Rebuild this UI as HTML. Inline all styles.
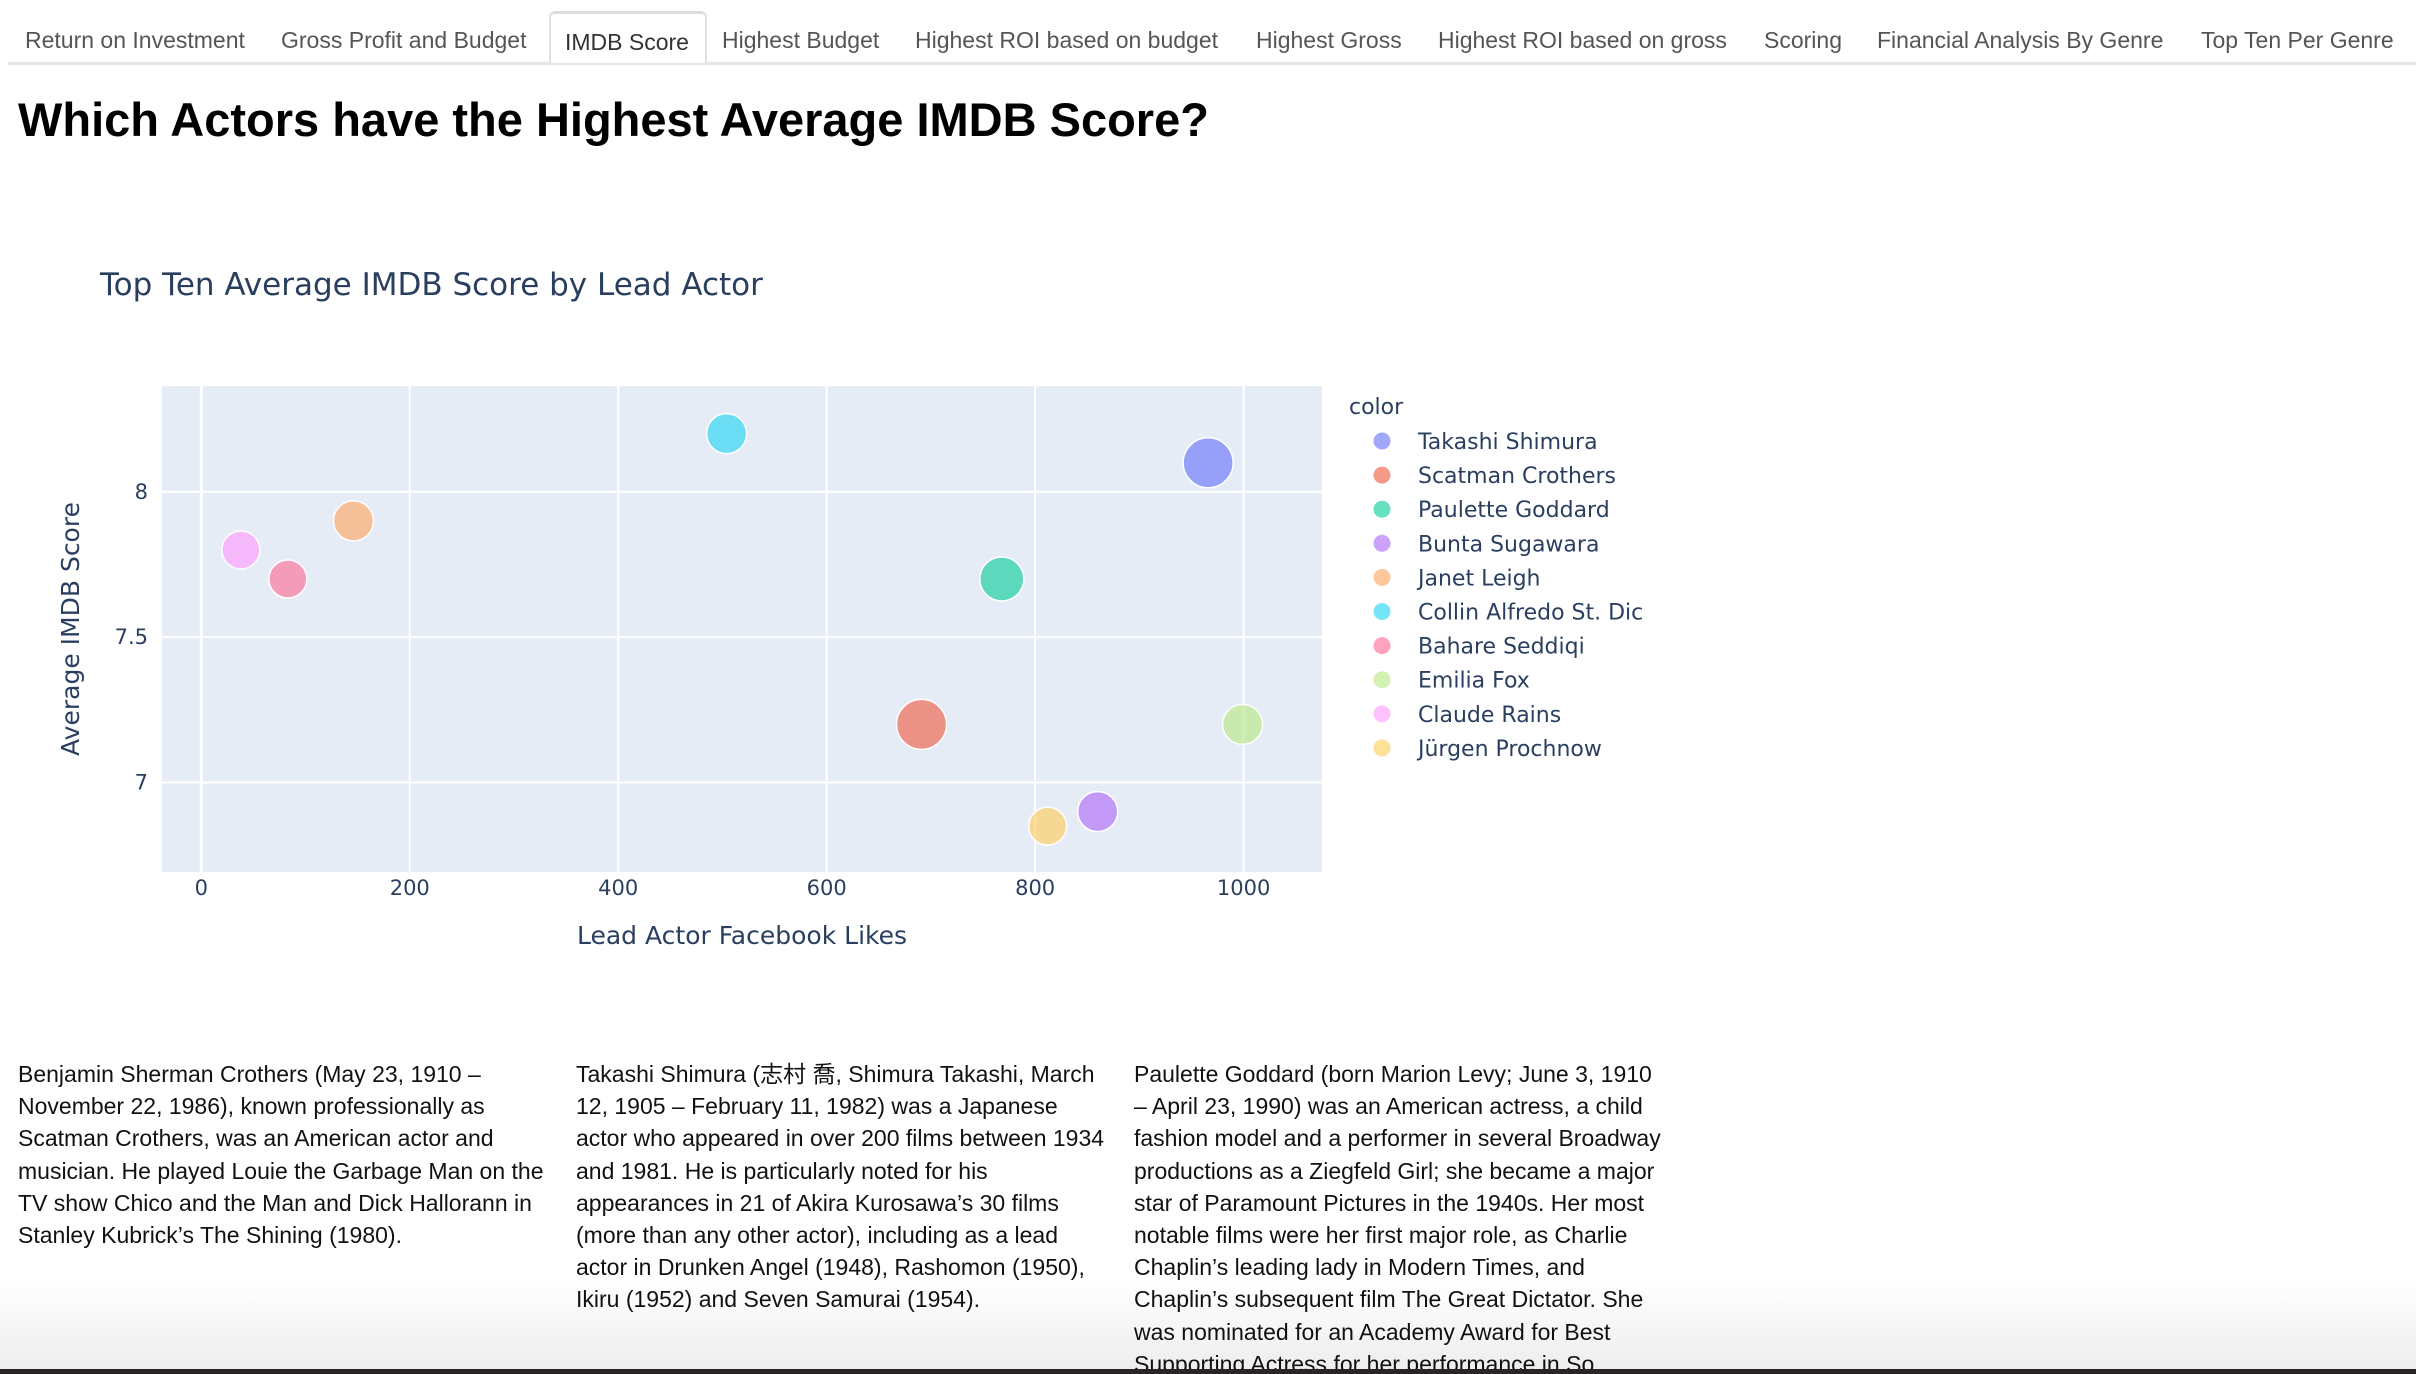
<!DOCTYPE html>
<html><head><meta charset="utf-8">
<style>
html,body{margin:0;padding:0;background:#fff;width:2416px;height:1374px;overflow:hidden;position:relative;font-family:"Liberation Sans",Arial,sans-serif;}
.tabs{position:absolute;left:8px;top:0;width:2408px;height:62px;border-bottom:3px solid #e6e6e6;}
.tab{position:absolute;top:27px;font-size:23px;color:#555;white-space:nowrap;}
.tab.active{top:11px;height:52px;border:2px solid #e0e0e0;border-bottom:none;border-top:3px solid #ddd;border-radius:6px 6px 0 0;background:#fff;padding:0 14px;box-sizing:border-box;line-height:56px;color:#333;}
h1{position:absolute;left:18px;top:92px;margin:0;font-size:47px;font-weight:bold;color:#000;}
svg{position:absolute;left:0;top:0;}
.col{position:absolute;top:1058px;width:560px;font-size:23px;line-height:32.2px;color:#111;font-family:"Liberation Sans","Noto Sans CJK JP",sans-serif;z-index:2;}
.shade{position:absolute;left:0;top:1280px;width:2416px;height:94px;background:linear-gradient(to bottom,rgba(255,255,255,0),rgba(232,232,232,0.8));z-index:1;}
.bottomline{position:absolute;left:0;top:1369px;width:2416px;height:5px;background:#2a2424;z-index:3;}
</style></head><body>
<div class="tabs">
<span class="tab" style="left:17px">Return on Investment</span>
<span class="tab" style="left:273px">Gross Profit and Budget</span>
<span class="tab active" style="left:541px;width:158px">IMDB Score</span>
<span class="tab" style="left:714px">Highest Budget</span>
<span class="tab" style="left:907px">Highest ROI based on budget</span>
<span class="tab" style="left:1248px">Highest Gross</span>
<span class="tab" style="left:1430px">Highest ROI based on gross</span>
<span class="tab" style="left:1756px">Scoring</span>
<span class="tab" style="left:1869px">Financial Analysis By Genre</span>
<span class="tab" style="left:2193px">Top Ten Per Genre</span>
</div>
<h1>Which Actors have the Highest Average IMDB Score?</h1>

<svg id="chart" width="2416" height="1000" font-family="DejaVu Sans, sans-serif"></svg>

<div class="col" style="left:18px">Benjamin Sherman Crothers (May 23, 1910 –<br>November 22, 1986), known professionally as<br>Scatman Crothers, was an American actor and<br>musician. He played Louie the Garbage Man on the<br>TV show Chico and the Man and Dick Hallorann in<br>Stanley Kubrick’s The Shining (1980).</div>
<div class="col" style="left:576px">Takashi Shimura (志村 喬, Shimura Takashi, March<br>12, 1905 – February 11, 1982) was a Japanese<br>actor who appeared in over 200 films between 1934<br>and 1981. He is particularly noted for his<br>appearances in 21 of Akira Kurosawa’s 30 films<br>(more than any other actor), including as a lead<br>actor in Drunken Angel (1948), Rashomon (1950),<br>Ikiru (1952) and Seven Samurai (1954).</div>
<div class="col" style="left:1134px">Paulette Goddard (born Marion Levy; June 3, 1910<br>– April 23, 1990) was an American actress, a child<br>fashion model and a performer in several Broadway<br>productions as a Ziegfeld Girl; she became a major<br>star of Paramount Pictures in the 1940s. Her most<br>notable films were her first major role, as Charlie<br>Chaplin’s leading lady in Modern Times, and<br>Chaplin’s subsequent film The Great Dictator. She<br>was nominated for an Academy Award for Best<br>Supporting Actress for her performance in So</div>
<div class="shade"></div>
<div class="bottomline"></div>

<script>
const actors = ["Takashi Shimura","Scatman Crothers","Paulette Goddard","Bunta Sugawara","Janet Leigh","Collin Alfredo St. Dic","Bahare Seddiqi","Emilia Fox","Claude Rains","Jürgen Prochnow"];
const likes = [966, 691, 768, 860, 146, 504, 83, 999, 38, 812];
const scores = [8.1, 7.2, 7.7, 6.9, 7.9, 8.2, 7.7, 7.2, 7.8, 6.85];
const sizes = [25, 25, 22, 20, 20, 20, 19, 20, 19, 19];
const colors = ["#636efa","#EF553B","#00cc96","#ab63fa","#FFA15A","#19d3f3","#FF6692","#B6E880","#FF97FF","#FECB52"];
const xTicks = [0,200,400,600,800,1000];
const yTicks = [7,7.5,8];
const yTickLabels = ["7","7.5","8"];

const NS="http://www.w3.org/2000/svg";
const svg=document.getElementById('chart');
const P={l:162,t:386,r:1322,b:872};
const X0=201.3, XK=(1243.6-201.3)/1000;
const Y0=782.5, YK=(782.5-491.8);
const xs=v=>X0+v*XK;
const ys=v=>Y0-(v-7)*YK;
function mk(tag,attrs,parent){const e=document.createElementNS(NS,tag);for(const k in attrs)e.setAttribute(k,attrs[k]);(parent||svg).appendChild(e);return e;}

const bg=mk('rect',{x:P.l,y:P.t,width:P.r-P.l,height:P.b-P.t,fill:'#e5ecf6'});



const title=mk('text',{x:100,y:295,'font-size':31,fill:'#2a3f5f'});
title.textContent='Top Ten Average IMDB Score by Lead Actor';



xTicks.forEach(t=>{
  const g=mk('line',{x1:xs(t),x2:xs(t),y1:P.t,y2:P.b,stroke:'#fff','stroke-width':t===0?3:2});
  
  
  const l=mk('text',{x:xs(t),y:895,'font-size':21,fill:'#2a3f5f','text-anchor':'middle'});
  l.textContent=t;
  
  
});
yTicks.forEach((t,i)=>{
  const g=mk('line',{x1:P.l,x2:P.r,y1:ys(t),y2:ys(t),stroke:'#fff','stroke-width':2});
  
  
  const l=mk('text',{x:P.l-14,y:ys(t)+7,'font-size':21,fill:'#2a3f5f','text-anchor':'end'});
  l.textContent=yTickLabels[i];
  
  
});

const xt=mk('text',{x:742,y:944,'font-size':25,fill:'#2a3f5f','text-anchor':'middle'});
xt.textContent='Lead Actor Facebook Likes';


const yt=mk('text',{x:0,y:0,'font-size':25,fill:'#2a3f5f','text-anchor':'middle',transform:'translate(79,629) rotate(-90)'});
yt.textContent='Average IMDB Score';



actors.forEach((a,i)=>{
  const c=mk('circle',{cx:xs(likes[i]),cy:ys(scores[i]),r:sizes[i],fill:colors[i],'fill-opacity':0.6,stroke:'#fff','stroke-width':1.5});
  
  
});

const lt=mk('text',{x:1349,y:414,'font-size':22,fill:'#2a3f5f'});
lt.textContent='color';


actors.forEach((a,i)=>{
  const y=441+i*34.1;
  const m=mk('circle',{cx:1382,cy:y,r:8.5,fill:colors[i],'fill-opacity':0.6});
  
  
  const t=mk('text',{x:1418,y:y+8,'font-size':22,fill:'#2a3f5f'});
  t.textContent=a;
  
  
});
</script>
</body></html>
